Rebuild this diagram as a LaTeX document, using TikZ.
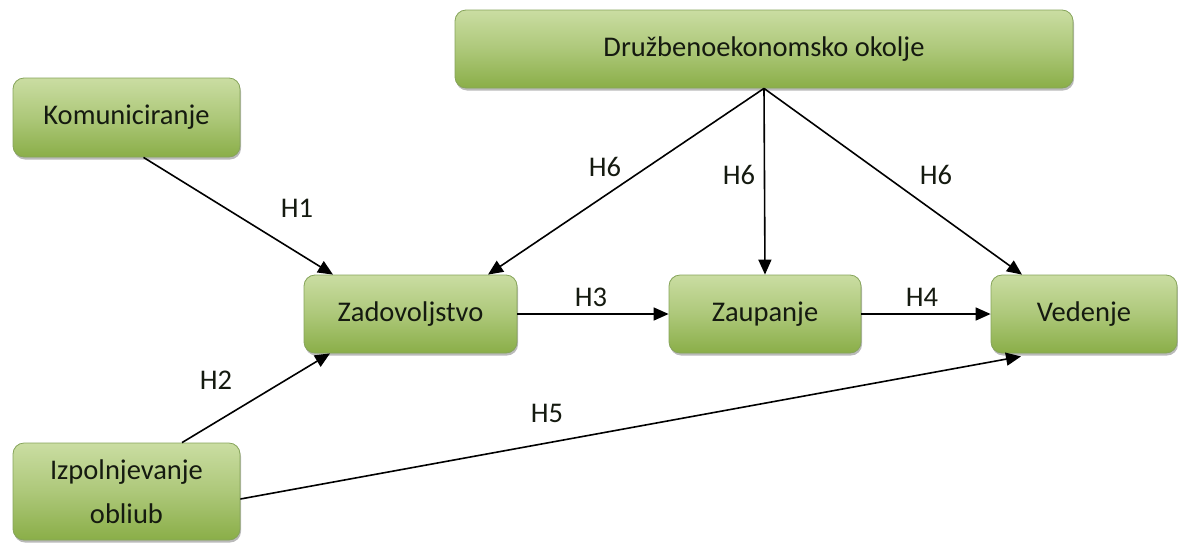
\documentclass[tikz,border=0pt]{standalone}
\usepackage{fontspec}
\setmainfont{Carlito}
\usetikzlibrary{arrows.meta,shadows}
\definecolor{boxtop}{HTML}{CADDA2}
\definecolor{boxbot}{HTML}{8AAE48}
\definecolor{boxline}{HTML}{86A45A}
\definecolor{txt}{HTML}{151A10}
\tikzset{
  gbox/.style={rectangle, rounded corners=11pt, draw=boxline, line width=0.8pt,
    top color=boxtop, bottom color=boxbot, middle color=boxtop!55!boxbot,
    text=txt, font=\fontsize{28.5}{34}\selectfont, align=center, inner sep=0pt,
    drop shadow={shadow xshift=1pt, shadow yshift=-2.5pt, opacity=0.45, fill=black!60}},
  arr/.style={-{Triangle[length=15pt,width=13pt]}, line width=1.6pt, black},
  lab/.style={text=txt, font=\fontsize{28.5}{34}\selectfont, inner sep=0pt}
}
\begin{document}
\begin{tikzpicture}[x=1pt,y=-1pt]
\useasboundingbox (0,0) rectangle (1178,544);
\node[gbox, minimum width=618pt, minimum height=78pt] (top) at (764,49) {Družbenoekonomsko okolje};
\node[gbox, minimum width=227pt, minimum height=79pt] (kom) at (126.5,117.5) {Komuniciranje};
\node[gbox, minimum width=213pt, minimum height=78pt] (zad) at (410.5,314) {Zadovoljstvo};
\node[gbox, minimum width=192pt, minimum height=78pt] (zau) at (765,314) {Zaupanje};
\node[gbox, minimum width=186pt, minimum height=78pt] (ved) at (1084,314) {Vedenje};
\node[gbox, minimum width=227pt, minimum height=97pt] (izp) at (126.5,491.5) {Izpolnjevanje\\[10pt]obliub};

\coordinate (kA) at ([xshift=17pt]kom.south);
\coordinate (zT1) at ([xshift=-77.5pt]zad.north);
\coordinate (zT2) at ([xshift=77.5pt]zad.north);
\coordinate (zB) at ([xshift=-80.5pt]zad.south);
\coordinate (iT) at ([xshift=55.5pt]izp.north);
\coordinate (iR) at ([yshift=-7.5pt]izp.east);
\coordinate (vT) at ([xshift=-62pt]ved.north);
\coordinate (vB) at ([xshift=-63pt,yshift=-3pt]ved.south);

\draw[arr] (kA) -- (zT1);
\draw[arr] (iT) -- (zB);
\draw[arr] (zad.east) -- (zau.west);
\draw[arr] (zau.east) -- (ved.west);
\draw[arr] (iR) -- (vB);
\draw[arr] (top.south) -- (zT2);
\draw[arr] (top.south) -- (zau.north);
\draw[arr] (top.south) -- (vT);

\node[lab] (h1) at (297,208) {H1};
\node[lab] (h2) at (216,380) {H2};
\node[lab] (h3) at (591,297) {H3};
\node[lab] (h4) at (922,297) {H4};
\node[lab] (h5) at (547,413) {H5};
\node[lab] (h6a) at (605,167) {H6};
\node[lab] (h6b) at (739,175) {H6};
\node[lab] (h6c) at (936,175) {H6};
\end{tikzpicture}
\end{document}
